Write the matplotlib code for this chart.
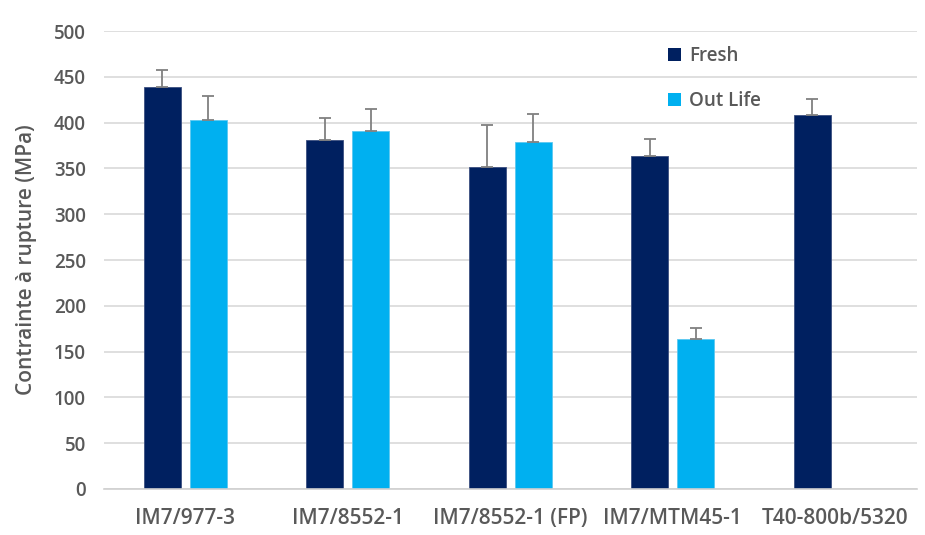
import numpy as np
import matplotlib
matplotlib.use("Agg")
import matplotlib.pyplot as plt
from matplotlib.patches import Patch

# Values (MPa)
categories = ["IM7/977-3", "IM7/8552-1", "IM7/8552-1 (FP)", "IM7/MTM45-1", "T40-800b/5320"]
fresh = [439, 381, 352, 364, 408]
fresh_err = [18.5, 24, 45, 18.5, 17.5]
out_life = [403, 391, 379, 164, np.nan]
out_life_err = [26, 24, 30.5, 12, np.nan]

plt.rcParams["font.family"] = ["Open Sans", "DejaVu Sans"]
plt.rcParams["font.weight"] = "semibold"
text_col = "#595959"
fresh_col = "#002060"
out_col = "#00B0F0"

fig = plt.figure(figsize=(9.25, 5.35), dpi=100)
ax = fig.add_axes([0.1124, 0.086, 0.8786, 0.856])

x = np.arange(len(categories))
w = 0.228
off = 0.141

err_style = dict(ecolor="#808080", elinewidth=1.3, capsize=4, capthick=1.3)

ax.bar(x - off, fresh, w, color=fresh_col, edgecolor="#3b4f80", linewidth=0.6, zorder=2)
ax.errorbar(x - off, fresh, yerr=[np.zeros(len(fresh)), fresh_err], fmt="none", zorder=3, **err_style)

ol = np.array(out_life, dtype=float)
ole = np.array(out_life_err, dtype=float)
ok = ~np.isnan(ol)
ax.bar(x[ok] + off, ol[ok], w, color=out_col, edgecolor="#5cc8f0", linewidth=0.6, zorder=2)
ax.errorbar(x[ok] + off, ol[ok], yerr=[np.zeros(ok.sum()), ole[ok]], fmt="none", zorder=3, **err_style)

ax.set_xlim(-0.5, len(categories) - 0.5)
ax.set_ylim(0, 500)
ax.set_yticks(np.arange(0, 501, 50))
ax.set_xticks(x)
ax.set_xticklabels(categories, fontsize=15, color=text_col)
ax.tick_params(axis="y", labelsize=13.5, colors=text_col, length=0, pad=13)
ax.tick_params(axis="x", length=0, pad=14)

ax.yaxis.grid(True, color="#d9d9d9", linewidth=1.2, zorder=0)
ax.set_axisbelow(True)
for s in ["top", "right", "left"]:
    ax.spines[s].set_visible(False)
ax.spines["bottom"].set_color("#d0d0d0")
ax.spines["bottom"].set_linewidth(1.2)

ax.set_ylabel("Contrainte à rupture (MPa)", fontsize=15, fontweight="semibold",
              color=text_col, labelpad=12)

handles = [Patch(facecolor=fresh_col), Patch(facecolor=out_col)]
leg = fig.legend(handles, ["Fresh", "Out Life"], loc="upper left",
                 bbox_to_anchor=(0.722, 0.914), frameon=False, fontsize=13.5,
                 handlelength=0.7, handleheight=0.7, handletextpad=0.45,
                 labelspacing=1.35, borderpad=0, borderaxespad=0)
for t in leg.get_texts():
    t.set_color(text_col)

fig.savefig("out.png", dpi=100)
